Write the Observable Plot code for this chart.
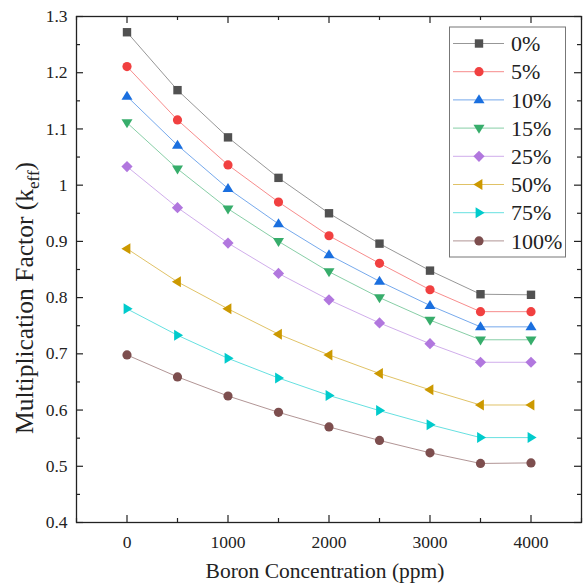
<!DOCTYPE html>
<html>
<head>
<meta charset="utf-8">
<script src="https://cdn.jsdelivr.net/npm/d3@7"></script>
<script src="https://cdn.jsdelivr.net/npm/@observablehq/plot@0.6"></script>
<style>
  html, body { margin: 0; padding: 0; background: #fff; }
  #chart svg { display: block; }
  #chart svg text { font-family: "Liberation Serif", "Times New Roman", serif; }
</style>
</head>
<body>
<div id="chart"></div>
<script>
// ---------- data ----------
const boron = [0, 500, 1000, 1500, 2000, 2500, 3000, 3500, 4000];
const seriesNames = ["0%", "5%", "10%", "15%", "25%", "50%", "75%", "100%"];
const k0   = [1.272, 1.169, 1.085, 1.013, 0.950, 0.896, 0.848, 0.806, 0.805];
const k5   = [1.211, 1.116, 1.036, 0.970, 0.910, 0.861, 0.814, 0.775, 0.775];
const k10  = [1.158, 1.071, 0.994, 0.931, 0.876, 0.829, 0.786, 0.748, 0.748];
const k15  = [1.111, 1.029, 0.958, 0.900, 0.846, 0.800, 0.760, 0.725, 0.725];
const k25  = [1.033, 0.960, 0.897, 0.843, 0.796, 0.755, 0.718, 0.685, 0.685];
const k50  = [0.887, 0.828, 0.780, 0.735, 0.698, 0.665, 0.636, 0.609, 0.609];
const k75  = [0.780, 0.733, 0.692, 0.657, 0.626, 0.599, 0.574, 0.551, 0.551];
const k100 = [0.698, 0.659, 0.625, 0.596, 0.570, 0.546, 0.524, 0.505, 0.506];
const seriesValues = [k0, k5, k10, k15, k25, k50, k75, k100];
const colors = ["#515151", "#F14040", "#1A6FDF", "#37AD6B", "#B177DE", "#CC9900", "#00CBCC", "#7D4E4E"];
const xMajor = [0, 1000, 2000, 3000, 4000];
const xMinor = [-500, 500, 1500, 2500, 3500, 4500];
const yMajor = [0.4, 0.5, 0.6, 0.7, 0.8, 0.9, 1, 1.1, 1.2, 1.3];
const yMinor = [0.45, 0.55, 0.65, 0.75, 0.85, 0.95, 1.05, 1.15, 1.25];
const xLabel = "Boron Concentration (ppm)";
const yLabelMain = "Multiplication Factor (k";
const yLabelSub = "eff";

// ---------- custom symbols ----------
function poly(pts) {
  return { draw(ctx) { ctx.moveTo(pts[0][0], pts[0][1]); for (let i = 1; i < pts.length; i++) ctx.lineTo(pts[i][0], pts[i][1]); ctx.closePath(); } };
}
const symSquare = poly([[-4.2, -4.2], [4.2, -4.2], [4.2, 4.2], [-4.2, 4.2]]);
const symCircle = { draw(ctx) { ctx.moveTo(4.6, 0); ctx.arc(0, 0, 4.6, 0, 2 * Math.PI); } };
const symTriUp = poly([[0, -5.6], [5.5, 3.4], [-5.5, 3.4]]);
const symTriDown = poly([[0, 5.6], [5.5, -3.4], [-5.5, -3.4]]);
const symDiamond = poly([[0, -5.6], [5.6, 0], [0, 5.6], [-5.6, 0]]);
const symTriLeft = poly([[-5.6, 0], [3.4, -5.5], [3.4, 5.5]]);
const symTriRight = poly([[5.6, 0], [-3.4, -5.5], [-3.4, 5.5]]);
const symbols = [symSquare, symCircle, symTriUp, symTriDown, symDiamond, symTriLeft, symTriRight, symCircle];

// ---------- layout ----------
const W = 583, H = 587;
const mL = 76, mR = 2, mT = 16, mB = 65;
const fw = W - mL - mR, fh = H - mT - mB;
const majorLen = 7, minorLen = 4;
const font = '"Liberation Serif", "Times New Roman", serif';

const rows = [];
seriesNames.forEach((name, i) => boron.forEach((b, j) => rows.push({ series: name, boron: b, k: seriesValues[i][j] })));

const marks = [];
// inward ticks on all four sides
marks.push(Plot.ruleY(yMajor, { y: d => d, insetRight: fw - majorLen, stroke: "#222", strokeWidth: 1.2 }));
marks.push(Plot.ruleY(yMinor, { y: d => d, insetRight: fw - minorLen, stroke: "#222", strokeWidth: 1.2 }));
marks.push(Plot.ruleY(yMajor, { y: d => d, insetLeft: fw - majorLen, stroke: "#222", strokeWidth: 1.2 }));
marks.push(Plot.ruleY(yMinor, { y: d => d, insetLeft: fw - minorLen, stroke: "#222", strokeWidth: 1.2 }));
marks.push(Plot.ruleX(xMajor, { x: d => d, insetTop: fh - majorLen, stroke: "#222", strokeWidth: 1.2 }));
marks.push(Plot.ruleX(xMinor, { x: d => d, insetTop: fh - minorLen, stroke: "#222", strokeWidth: 1.2 }));
marks.push(Plot.ruleX(xMajor, { x: d => d, insetBottom: fh - majorLen, stroke: "#222", strokeWidth: 1.2 }));
marks.push(Plot.ruleX(xMinor, { x: d => d, insetBottom: fh - minorLen, stroke: "#222", strokeWidth: 1.2 }));

seriesNames.forEach((name, i) => {
  const data = rows.filter(r => r.series === name);
  marks.push(Plot.line(data, { x: "boron", y: "k", stroke: colors[i], strokeWidth: 1, strokeOpacity: 0.6 }));
});
seriesNames.forEach((name, i) => {
  const data = rows.filter(r => r.series === name);
  marks.push(Plot.dot(data, { x: "boron", y: "k", symbol: symbols[i], fill: colors[i], stroke: "none", r: 4.5 }));
});

marks.push(Plot.axisY({ ticks: yMajor, tickSize: 0, tickPadding: 9, tickFormat: d => String(d), label: null, fontSize: 17.5, fontFamily: font }));
marks.push(Plot.axisX({ ticks: xMajor, tickSize: 0, tickPadding: 13, tickFormat: d => String(d), label: null, fontSize: 17.5, fontFamily: font }));
marks.push(Plot.frame({ stroke: "#222", strokeWidth: 1.3 }));

const chart = Plot.plot({
  width: W, height: H,
  marginLeft: mL, marginRight: mR, marginTop: mT, marginBottom: mB,
  x: { domain: [-500, 4500] },
  y: { domain: [0.4, 1.3] },
  style: { fontFamily: font, fontSize: "17px", color: "#222", background: "#fff", overflow: "visible" },
  marks
});

const svg = d3.select(chart);
// x axis label
svg.append("text")
  .attr("x", 325).attr("y", 578)
  .attr("text-anchor", "middle")
  .style("font-family", font).style("font-size", "21.5px").attr("fill", "#222")
  .text(xLabel);
// y axis label with subscript
const yl = svg.append("text")
  .attr("transform", "translate(33,298) rotate(-90)")
  .attr("text-anchor", "middle")
  .style("font-family", font).style("font-size", "25.5px").attr("fill", "#222");
yl.append("tspan").text(yLabelMain);
yl.append("tspan").style("font-size", "17px").attr("dy", 6).text(yLabelSub);
yl.append("tspan").attr("dy", -6).text(")");

// legend
const lg = svg.append("g");
lg.append("rect").attr("x", 449.5).attr("y", 27).attr("width", 116).attr("height", 230)
  .attr("fill", "#fff").attr("stroke", "#777").attr("stroke-width", 1);
seriesNames.forEach((name, i) => {
  const cy = 43.5 + i * 28.2;
  lg.append("line").attr("x1", 453).attr("x2", 504).attr("y1", cy).attr("y2", cy)
    .attr("stroke", colors[i]).attr("stroke-opacity", 0.6).attr("stroke-width", 1);
  lg.append("path").attr("transform", `translate(479,${cy})`)
    .attr("d", d3.symbol(symbols[i], 1)()).attr("fill", colors[i]);
  lg.append("text").attr("x", 511).attr("y", cy).attr("dy", "0.35em")
    .attr("text-anchor", "start")
    .style("font-family", font).style("font-size", "22px").attr("fill", "#222").text(name);
});

document.getElementById("chart").appendChild(chart);
</script>
</body>
</html>
